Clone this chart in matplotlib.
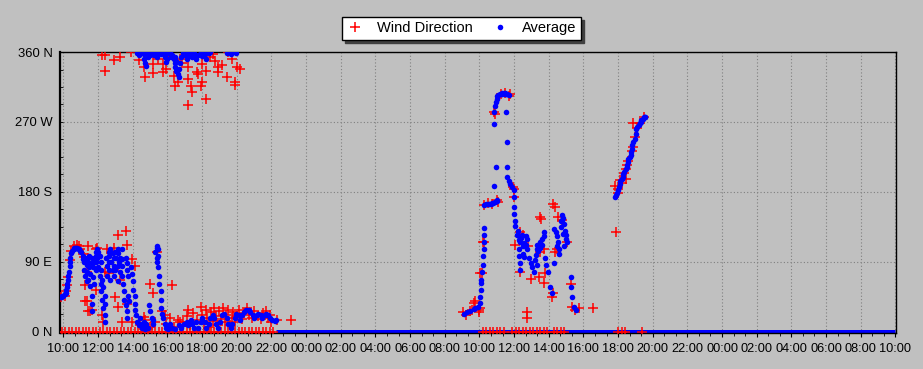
import numpy as np
import matplotlib.pyplot as plt
from matplotlib.ticker import MultipleLocator

plt.rcParams["font.family"] = ["Liberation Sans", "DejaVu Sans"]

# hours since 10:00 on day 1, direction in degrees
avg_day1 = [
    (-0.17, 44), (-0.12, 45), (-0.06, 46), (0.0, 46), (0.06, 48), (0.12, 50), (0.17, 54),
    (0.2, 58), (0.23, 62), (0.26, 67), (0.29, 72), (0.32, 77), (0.35, 84), (0.37, 90),
    (0.40, 95), (0.46, 101), (0.52, 104), (0.58, 107), (0.63, 108), (0.69, 108), (0.75, 108),
    (0.81, 108), (0.87, 107), (0.92, 106), (0.98, 104), (1.04, 102), (1.10, 98), (1.15, 93),
    (1.21, 90), (1.21, 80), (1.27, 72), (1.33, 65), (1.33, 86), (1.38, 95), (1.38, 77),
    (1.44, 90), (1.44, 67), (1.50, 83), (1.50, 98), (1.56, 74), (1.56, 59), (1.62, 46),
    (1.62, 35), (1.67, 26), (1.62, 89), (1.67, 95), (1.73, 83), (1.73, 71), (1.79, 90),
    (1.79, 61), (1.85, 98), (1.85, 80), (1.90, 103), (1.90, 90), (1.96, 106), (1.96, 95),
    (2.02, 103), (2.02, 83), (2.08, 98), (2.08, 72), (2.14, 90), (2.14, 62), (2.19, 80),
    (2.19, 52), (2.25, 67), (2.25, 41), (2.31, 57), (2.31, 31), (2.37, 46), (2.37, 21),
    (2.42, 36), (2.42, 13),
    (2.48, 95), (2.54, 85), (2.54, 72), (2.60, 103), (2.60, 90), (2.65, 80), (2.65, 98),
    (2.71, 67), (2.71, 106), (2.77, 90), (2.83, 80), (2.83, 101), (2.89, 95), (2.89, 72),
    (2.94, 85), (3.0, 103), (3.0, 80), (3.06, 95), (3.12, 85), (3.12, 65), (3.17, 101),
    (3.17, 106), (3.23, 90), (3.29, 77), (3.29, 95), (3.35, 106), (3.35, 85), (3.40, 93),
    (3.40, 72),
    (3.46, 61), (3.52, 52), (3.52, 41), (3.58, 34), (3.64, 26), (3.69, 18), (3.58, 95),
    (3.64, 88), (3.69, 80), (3.75, 72), (3.75, 46), (3.81, 39),
    (3.92, 83), (3.98, 74), (4.04, 65), (4.04, 54), (4.10, 46), (4.10, 36), (4.15, 28),
    (4.21, 21), (4.27, 13), (4.33, 8),
    (4.44, 18), (4.50, 10), (4.56, 5), (4.62, 13), (4.67, 8), (4.73, 3), (4.79, 10), (4.85, 5),
    (4.96, 34), (5.02, 26), (5.08, 18), (5.14, 10), (5.19, 15),
    (5.31, 103), (5.37, 108), (5.42, 110), (5.48, 106), (5.48, 98), (5.42, 90), (5.48, 83),
    (5.54, 72), (5.54, 62), (5.60, 52), (5.60, 41), (5.65, 31), (5.71, 23), (5.37, 95),
    (5.77, 18), (5.83, 10), (5.89, 5), (6.0, 8), (6.06, 3), (6.17, 10), (6.29, 5), (6.46, 3),
    (6.64, 8), (6.81, 5), (6.98, 10), (7.10, 13), (7.21, 8), (7.33, 15), (7.44, 10),
    (7.56, 5), (7.67, 13),
    (7.79, 5), (7.91, 13), (8.02, 18), (8.14, 13), (8.25, 5), (8.37, 10), (8.48, 18),
    (8.60, 22), (8.71, 18), (8.83, 10), (8.94, 5), (9.06, 13), (9.17, 21), (9.29, 23),
    (9.41, 18), (9.52, 10), (9.64, 5), (9.75, 10), (9.87, 18), (9.98, 23), (10.10, 21),
    (10.21, 15), (10.33, 21), (10.44, 25), (10.56, 28), (10.68, 28), (10.79, 25),
    (10.91, 21), (11.02, 18), (11.14, 22), (11.25, 23), (11.37, 21), (11.48, 18),
    (11.60, 21), (11.71, 23), (11.83, 22), (11.94, 18), (12.06, 15), (12.18, 14), (12.29, 15),
]

avg_top = [
    (4.27, 359), (4.33, 356), (4.39, 360), (4.5, 359), (4.62, 357), (4.67, 351), (4.73, 346),
    (4.79, 342), (4.85, 353), (4.90, 359), (5.02, 356), (5.14, 360), (5.25, 356), (5.37, 359),
    (5.42, 353), (5.60, 357), (5.77, 360), (5.83, 353), (5.89, 347), (5.94, 357), (6.0, 351),
    (6.06, 359), (6.17, 360), (6.23, 353), (6.29, 356), (6.35, 351), (6.41, 346), (6.41, 353),
    (6.46, 341), (6.52, 335), (6.52, 348), (6.58, 332), (6.64, 328), (6.69, 338), (6.75, 346),
    (6.81, 353), (6.92, 359), (7.04, 356), (7.1, 351), (7.16, 360), (7.27, 355), (7.33, 357),
    (7.44, 353), (7.56, 359), (7.62, 355), (7.67, 351), (7.79, 356), (7.91, 360), (8.02, 355),
    (8.14, 357), (8.25, 351), (8.37, 359), (8.48, 360), (9.41, 359), (9.52, 360), (9.64, 357),
    (9.87, 360), (9.98, 359),
]

avg_day2 = [
    (23.10, 23), (23.29, 25), (23.48, 27), (23.68, 29), (23.77, 31), (23.9, 32), (24.03, 37),
    (24.06, 45), (24.10, 54), (24.12, 63), (24.12, 67), (24.16, 77), (24.18, 86), (24.21, 97),
    (24.24, 106), (24.25, 115), (24.28, 124), (24.29, 134), (24.29, 163), (24.38, 164),
    (24.47, 164), (24.55, 165), (24.64, 165), (24.72, 166), (24.81, 166), (24.9, 167),
    (24.99, 168), (25.04, 169), (24.87, 187), (24.93, 212), (24.87, 267), (24.87, 283),
    (24.90, 290), (24.93, 296), (24.99, 299), (25.04, 303), (25.10, 305), (25.16, 306),
    (25.22, 306), (25.28, 307), (25.33, 306), (25.39, 307), (25.45, 306), (25.50, 307),
    (25.56, 306), (25.62, 306), (25.68, 305),
    (25.55, 283), (25.61, 244), (25.61, 212), (25.61, 199), (25.68, 194), (25.79, 190),
    (25.89, 186), (25.97, 183), (25.97, 174), (25.97, 161), (26.02, 151), (26.08, 142),
    (26.08, 136), (26.14, 125),
    (26.26, 123), (26.47, 125), (26.66, 123), (26.76, 119), (26.37, 115), (26.54, 110),
    (26.76, 106), (26.27, 106), (26.31, 97), (26.33, 89), (26.33, 80), (26.85, 95),
    (26.95, 89), (27.04, 83), (27.14, 77), (26.3, 118), (26.4, 120), (26.6, 114), (26.7, 112),
    (26.5, 100), (26.6, 96), (26.2, 130),
    (27.24, 99), (27.33, 106), (27.43, 110), (27.52, 115), (27.62, 119), (27.72, 123),
    (27.72, 128), (27.81, 95), (27.87, 86), (27.95, 77), (27.3, 112), (27.4, 104), (27.5, 108),
    (27.6, 112), (27.2, 92), (27.3, 86),
    (28.10, 58), (28.20, 50), (28.29, 89),
    (28.33, 132), (28.45, 123), (28.52, 115), (28.58, 106), (28.4, 128), (28.5, 110), (28.6, 100),
    (28.68, 142), (28.78, 144), (28.87, 138), (28.91, 129), (28.97, 119), (29.06, 116),
    (28.7, 135), (28.8, 126), (28.9, 110), (29.0, 124), (28.75, 150), (28.8, 146),
    (29.26, 71), (29.30, 58), (29.35, 45), (29.45, 32), (29.60, 28),
]

avg_eve = [
    (31.85, 173), (31.88, 176), (31.91, 178), (31.97, 182), (32.03, 186), (32.09, 190),
    (32.14, 194), (32.2, 197), (32.26, 199), (32.31, 203), (32.37, 206), (32.43, 209),
    (32.49, 212), (32.54, 215), (32.57, 218), (32.60, 222), (32.66, 225), (32.72, 228),
    (32.75, 231), (32.78, 235), (32.83, 240), (32.89, 244), (32.95, 248), (33.01, 254),
    (33.06, 261), (33.12, 264), (33.18, 266), (33.24, 268), (33.30, 270), (33.35, 272),
    (33.41, 274), (33.47, 276), (33.53, 277), (33.58, 277),
]

# average sits on 0 from late day 1 to the end
avg_zero_span = [12.25, 48.0]

dir_day1 = [
    (-0.12, 44), (0.06, 46), (0.12, 52), (0.2, 60), (0.29, 70), (0.37, 92), (0.46, 104),
    (0.58, 110), (0.81, 112), (0.87, 110), (0.98, 106), (1.10, 100), (1.21, 96), (1.44, 110),
    (1.44, 95), (1.27, 60), (1.33, 77), (1.38, 40), (1.27, 39), (1.44, 26), (1.56, 26),
    (1.67, 28), (1.90, 106), (1.96, 108), (1.85, 54), (2.25, 22), (2.31, 12), (2.42, 77),
    (2.54, 106), (2.60, 76), (2.89, 108), (3.0, 45), (3.12, 32), (3.17, 125), (3.17, 84),
    (3.29, 67), (3.40, 12), (3.58, 129), (3.69, 112), (3.69, 35), (3.98, 93), (3.98, 13),
    (4.10, 84), (4.62, 19), (5.02, 61), (5.14, 50), (5.42, 102), (5.71, 26), (5.83, 22),
    (6.17, 18), (6.29, 60), (6.75, 13), (7.21, 28), (7.91, 32),
    (4.4, 8), (4.7, 15), (5.0, 6), (5.3, 12), (5.9, 10), (6.4, 6), (6.6, 15), (4.9, 3),
    (6.9, 12), (7.1, 20), (7.3, 8), (7.5, 24), (7.7, 15), (8.0, 22), (8.1, 10), (8.2, 28),
    (8.3, 18), (8.4, 6), (8.5, 25), (8.6, 14), (8.7, 30), (8.8, 20), (8.9, 8), (9.0, 26),
    (9.1, 16), (9.2, 30), (9.3, 12), (9.4, 22), (9.5, 28), (9.6, 8), (9.7, 18), (9.8, 25),
    (9.9, 12), (10.0, 20), (10.1, 28), (10.3, 16), (10.4, 24), (10.6, 30), (10.7, 22),
    (10.9, 18), (11.0, 26), (11.2, 20), (11.4, 16), (11.5, 24), (11.7, 26), (11.8, 18),
    (11.9, 22), (12.0, 12), (12.3, 15), (13.1, 15),
]

dir_top = [
    (2.25, 356), (2.42, 356), (2.42, 335), (2.89, 350), (3.87, 360), (4.33, 350), (4.62, 341),
    (4.73, 328), (5.14, 344), (5.14, 333), (5.19, 357), (5.77, 344), (5.77, 334), (5.89, 338),
    (6.35, 329), (6.46, 316), (6.58, 322), (6.86, 346), (7.16, 341), (7.16, 325), (7.16, 292),
    (7.33, 316), (7.39, 308), (7.73, 334), (7.79, 332), (7.91, 316), (8.02, 322), (8.02, 344),
    (8.25, 335), (8.25, 299), (8.60, 357), (8.77, 348), (8.89, 341), (8.94, 334), (9.41, 328),
    (9.52, 360), (9.92, 322), (9.92, 317), (10.04, 341), (4.85, 360), (6.06, 355), (6.75, 351),
    (7.62, 353), (8.48, 353), (9.17, 343), (10.21, 338), (3.29, 353), (5.48, 351), (9.75, 351),
]

dir_day2 = [
    (23.08, 25), (23.2, 22), (23.48, 26), (23.6, 28), (23.66, 37), (23.95, 25), (24.06, 31),
    (24.15, 76), (24.23, 115), (24.29, 163), (24.5, 166), (24.7, 165), (25.04, 170),
    (25.1, 167), (24.87, 283), (24.9, 280), (25.22, 306), (25.5, 307), (25.74, 306),
    (25.68, 304), (25.97, 184), (25.91, 186), (26.0, 173), (26.08, 112), (26.37, 128),
    (26.54, 125), (26.83, 110), (26.37, 77), (26.95, 68), (27.41, 70), (27.70, 63),
    (27.52, 148), (27.55, 145), (28.27, 164), (28.39, 161), (28.56, 148), (28.79, 144),
    (29.08, 115), (28.39, 102), (28.45, 106), (27.81, 76), (28.27, 50), (28.16, 44),
    (29.26, 61), (29.37, 32), (29.54, 28), (29.72, 30), (30.58, 30), (26.77, 25), (26.72, 18),
    (27.52, 102), (27.70, 106), (24.29, 115), (24.06, 76), (23.77, 39), (24.0, 28),
]

dir_eve = [
    (31.89, 128), (31.85, 187), (32.0, 184), (32.1, 195), (32.2, 192), (32.35, 204),
    (32.43, 196), (32.5, 214), (32.6, 220), (32.83, 232), (32.85, 238), (32.95, 250),
    (33.1, 262), (32.89, 268), (33.29, 268), (33.47, 277), (32.45, 210), (32.0, 178),
]

# wind direction readings of 0
dir_zero_hours = [
    -0.1, 0.1, 0.3, 0.5, 0.7, 0.9, 1.1, 1.3, 1.5, 1.7, 1.9, 2.1, 2.3, 2.5, 2.7, 2.9, 3.1,
    3.3, 3.5, 3.7, 3.9, 4.1, 4.3, 4.5, 4.7, 4.9, 5.1, 5.3, 5.5, 5.7, 5.9, 6.1, 6.3, 6.5,
    6.7, 6.9, 7.1, 7.3, 7.5, 7.7, 7.9, 8.1, 8.3, 8.5, 8.7, 8.9, 9.1, 9.3, 9.5, 9.7, 9.9,
    10.1, 10.3, 10.5, 10.7, 10.9, 11.1, 11.3, 11.5, 11.7, 11.9, 12.1,
    24.2, 24.4, 24.6, 24.8, 25.0, 25.2, 25.4, 25.9, 26.1, 26.3, 26.5, 26.7, 26.9, 27.1,
    27.3, 27.5, 27.7, 27.9, 28.3, 28.5, 28.7, 28.9, 32.0, 32.2, 32.4, 33.4,
]

tick_hours = list(range(0, 49, 2))
tick_labels = ["%02d:00" % ((10 + h) % 24) for h in tick_hours]
dir_ticks = [0, 90, 180, 270, 360]
dir_labels = ["0 N", "90 E", "180 S", "270 W", "360 N"]

avg_pts = np.array(avg_day1 + avg_top + avg_day2 + avg_eve)
dir_pts = np.array(dir_day1 + dir_top + dir_day2 + dir_eve)

fig = plt.figure(figsize=(9.23, 3.69), dpi=100, facecolor="#c0c0c0")
ax = fig.add_axes([0.065, 0.098, 0.906, 0.761])
ax.set_facecolor("#c0c0c0")

ax.plot(avg_zero_span, [0, 0], color="#0000ff", lw=3.6, solid_capstyle="butt", zorder=2)
ax.plot(dir_zero_hours, np.zeros(len(dir_zero_hours)), "+", color="#ff0000",
        ms=6.5, mew=1.1, zorder=3)
h_dir, = ax.plot(dir_pts[:, 0], dir_pts[:, 1], "+", color="#ff0000", ms=6.5, mew=1.1, zorder=3)
h_avg, = ax.plot(avg_pts[:, 0], avg_pts[:, 1], "o", color="#0000ff", ms=4, mew=0, zorder=4)

ax.set_xlim(-0.2, 48.05)
ax.set_ylim(-1.5, 360)
ax.set_xticks(tick_hours)
ax.set_xticklabels(tick_labels)
ax.xaxis.set_minor_locator(MultipleLocator(2 / 3))
ax.set_yticks(dir_ticks)
ax.set_yticklabels(dir_labels)
ax.yaxis.set_minor_locator(MultipleLocator(22.5))

ax.tick_params(axis="x", which="major", direction="out", length=3, width=0.8, pad=4, labelsize=9.2)
ax.tick_params(axis="x", which="minor", direction="out", length=2, width=0.6)
ax.tick_params(axis="y", which="both", direction="in", length=2.5, width=0.6, pad=5.5, labelsize=9.4)

ax.grid(True, which="major", color="#808080", linestyle=(0, (1, 2)), linewidth=0.8)
ax.set_axisbelow(True)
for side in ["top", "bottom", "right"]:
    ax.spines[side].set_color("black")
    ax.spines[side].set_linewidth(1)
ax.spines["left"].set_linewidth(1.6)

leg = fig.legend([h_dir, h_avg], ["Wind Direction", "Average"], loc="center",
                 bbox_to_anchor=(0.5, 0.923), ncol=2, fontsize=10.5, frameon=True,
                 fancybox=False, shadow={"color": "#404040", "alpha": 1},
                 handlelength=1.2, handletextpad=0.9, columnspacing=1.3, borderpad=0.3)
leg.get_frame().set_edgecolor("black")
leg.get_frame().set_linewidth(1)
leg.get_frame().set_facecolor("white")

fig.savefig("out.png", dpi=100, facecolor=fig.get_facecolor())
